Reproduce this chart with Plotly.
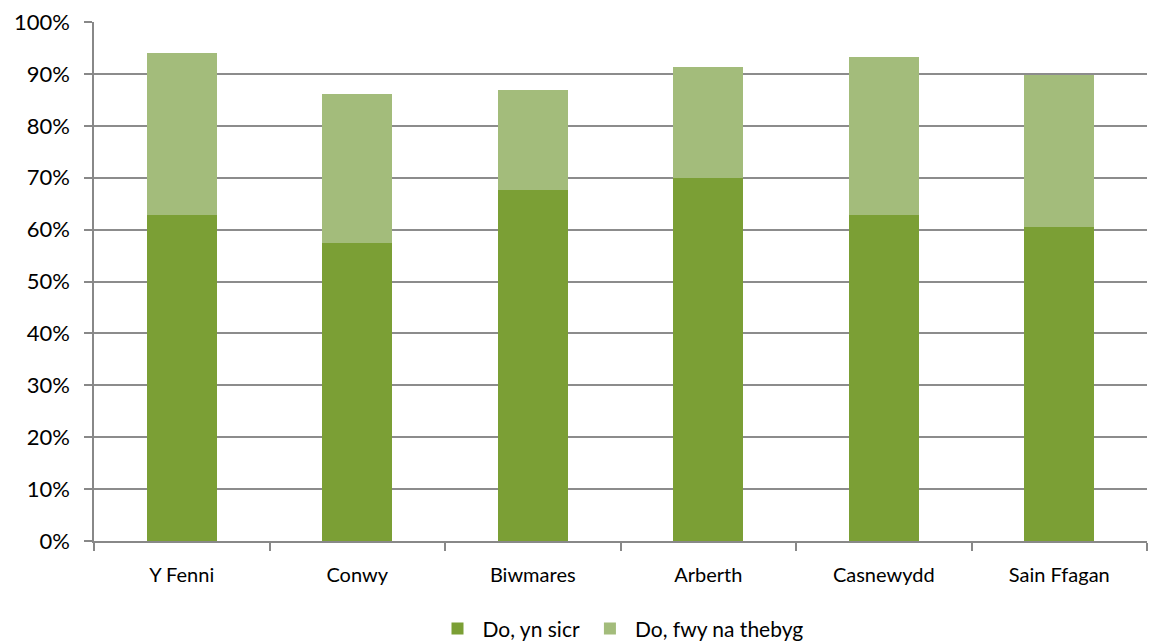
import plotly.graph_objects as go

categories = ["Y Fenni", "Conwy", "Biwmares", "Arberth", "Casnewydd", "Sain Ffagan"]
definitely = [0.628, 0.574, 0.676, 0.699, 0.628, 0.605]
probably = [0.312, 0.287, 0.193, 0.214, 0.305, 0.293]
series_names = ["Do, yn sicr", "Do, fwy na thebyg"]

font_family = "Lato, 'Open Sans', sans-serif"

fig = go.Figure()
fig.add_trace(go.Bar(x=categories, y=definitely, name=series_names[0],
                     marker=dict(color="#7b9f35", line=dict(width=0))))
fig.add_trace(go.Bar(x=categories, y=probably, name=series_names[1],
                     marker=dict(color="#a3bc7b", line=dict(width=0))))

fig.update_layout(
    barmode="stack",
    bargap=0.6,
    width=1155, height=636,
    margin=dict(l=86, r=16, t=14, b=103, autoexpand=False),
    plot_bgcolor="white", paper_bgcolor="white",
    font=dict(family=font_family, size=20, color="#000000"),
    legend=dict(orientation="h", x=0.5, xanchor="center", y=-0.13, yanchor="top",
                font=dict(size=21), itemwidth=40, traceorder="normal"),
    xaxis=dict(showline=True, linecolor="#888888", linewidth=1.5, automargin=False,
               tickson="boundaries", ticks="outside", ticklen=8, tickcolor="#888888",
               tickwidth=1.5, showgrid=False, range=[-0.5, 5.5],
               tickfont=dict(size=20), ticklabelstandoff=15),
    yaxis=dict(range=[0, 1], tickformat=".0%", dtick=0.1, showgrid=True, automargin=False,
               gridcolor="#8c8c8c", gridwidth=1.5, showline=True, linecolor="#888888",
               linewidth=1.5, ticks="outside", ticklen=8, tickcolor="#888888",
               tickwidth=1.5, zeroline=False, tickfont=dict(size=22),
               ticklabeloverflow="allow", ticklabelstandoff=10),
)
fig.write_html("out.html")
